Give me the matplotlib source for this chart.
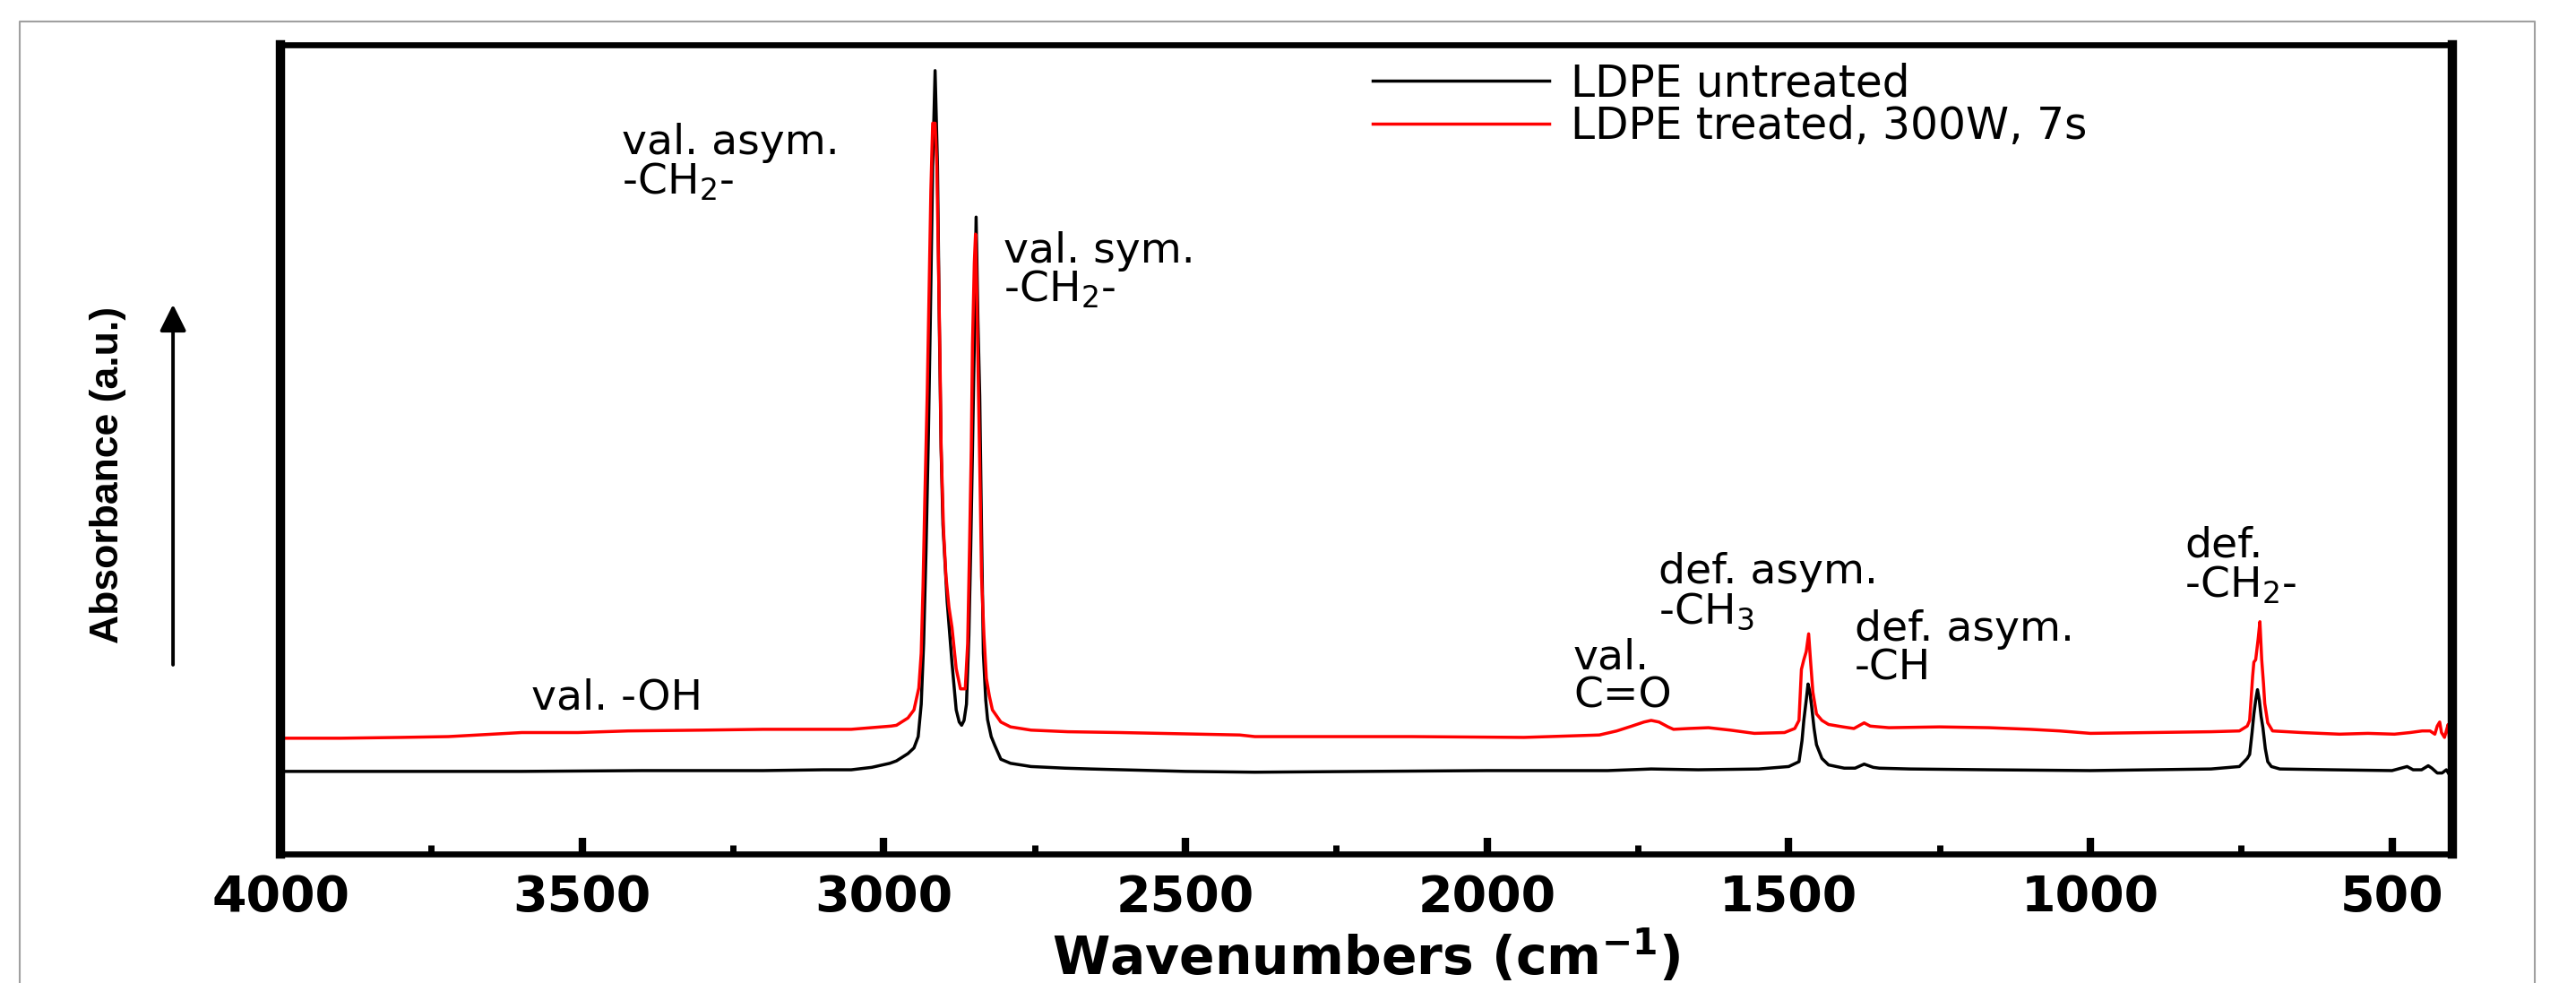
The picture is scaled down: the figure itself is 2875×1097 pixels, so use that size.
import matplotlib
matplotlib.use('Agg')
import matplotlib.pyplot as plt
from matplotlib.lines import Line2D
from matplotlib.ticker import MultipleLocator

# FTIR spectra (wavenumber in cm-1, absorbance in a.u.)
wn_untreated = [4000, 3800, 3600, 3400, 3200, 3100, 3054, 3020, 2990, 2979, 2960, 2950,
                2943, 2938, 2934, 2930, 2926, 2923, 2919, 2915, 2911, 2908, 2905, 2902,
                2895, 2887, 2880, 2875, 2871, 2867, 2863, 2859, 2856, 2853, 2850, 2847,
                2844, 2841, 2838, 2835, 2831, 2828, 2822, 2816, 2806, 2790, 2756, 2700,
                2657, 2500, 2385, 2200, 2000, 1800, 1728, 1650, 1550, 1500, 1483, 1478,
                1475, 1471, 1468, 1465, 1462, 1458, 1454, 1445, 1434, 1408, 1390, 1375,
                1360, 1350, 1300, 1168, 1000, 900, 800, 753, 740, 736, 732, 729, 726,
                723, 720, 717, 714, 710, 706, 700, 686, 600, 500, 475, 465, 451, 440,
                434, 425, 417, 410, 405, 400]
abs_untreated = [0.102, 0.102, 0.102, 0.103, 0.103, 0.104, 0.104, 0.107, 0.112, 0.115, 0.124, 0.131,
                 0.145, 0.185, 0.26, 0.375, 0.52, 0.655, 0.85, 0.968, 0.85, 0.655, 0.50, 0.407,
                 0.312, 0.236, 0.178, 0.163, 0.159, 0.165, 0.185, 0.27, 0.375, 0.50, 0.63, 0.787,
                 0.66, 0.566, 0.40, 0.248, 0.19, 0.166, 0.145, 0.134, 0.117, 0.112, 0.108, 0.106,
                 0.105, 0.102, 0.101, 0.102, 0.103, 0.103, 0.105, 0.104, 0.105, 0.108, 0.114, 0.14,
                 0.165, 0.19, 0.21, 0.20, 0.182, 0.155, 0.135, 0.118, 0.110, 0.106, 0.106, 0.111,
                 0.107, 0.106, 0.105, 0.104, 0.103, 0.104, 0.105, 0.108, 0.118, 0.123, 0.15, 0.173, 0.19,
                 0.203, 0.19, 0.17, 0.156, 0.13, 0.114, 0.108, 0.105, 0.104, 0.103, 0.108, 0.104, 0.104, 0.109,
                 0.106, 0.100, 0.100, 0.104, 0.098, 0.101]

wn_treated = [4000, 3900, 3800, 3722, 3600, 3507, 3424, 3300, 3200, 3100, 3054, 2988,
              2979, 2960, 2950, 2942, 2938, 2935, 2932, 2928, 2925, 2922, 2919, 2915,
              2912, 2910, 2907, 2905, 2901, 2897, 2892, 2887, 2880, 2873, 2865, 2861,
              2858, 2855, 2853, 2850, 2848, 2846, 2843, 2840, 2838, 2834, 2830, 2825,
              2820, 2806, 2790, 2756, 2695, 2608, 2410, 2385, 2126, 1939, 1814, 1785,
              1760, 1740, 1728, 1715, 1700, 1691, 1666, 1633, 1597, 1557, 1507, 1490,
              1483, 1479, 1475, 1471, 1467, 1464, 1460, 1454, 1445, 1434, 1410, 1392,
              1375, 1365, 1350, 1334, 1250, 1168, 1100, 1051, 1000, 900, 800, 753,
              740, 736, 731, 729, 726, 722, 719, 716, 713, 711, 706, 698, 650, 587,
              540, 496, 470, 450, 437, 429, 425, 421, 418, 413, 410, 407, 404, 401, 400]
abs_treated = [0.143, 0.143, 0.144, 0.145, 0.150, 0.150, 0.152, 0.153, 0.154, 0.154, 0.154, 0.158,
               0.159, 0.168, 0.178, 0.205, 0.248, 0.33, 0.439, 0.57, 0.693, 0.82, 0.903, 0.903,
               0.85, 0.756, 0.62, 0.503, 0.40, 0.343, 0.305, 0.28, 0.229, 0.204, 0.204, 0.26,
               0.375, 0.50, 0.63, 0.73, 0.766, 0.70, 0.566, 0.44, 0.343, 0.27, 0.217, 0.195,
               0.178, 0.163, 0.157, 0.153, 0.151, 0.150, 0.147, 0.145, 0.145, 0.144, 0.147, 0.152,
               0.158, 0.163, 0.165, 0.163, 0.157, 0.154, 0.155, 0.156, 0.153, 0.149, 0.150, 0.155,
               0.165, 0.228, 0.24, 0.25, 0.272, 0.24, 0.20, 0.173, 0.165, 0.160, 0.157, 0.155,
               0.162, 0.158, 0.157, 0.156, 0.157, 0.156, 0.154, 0.152, 0.149, 0.150, 0.151, 0.152,
               0.158, 0.165, 0.22, 0.237, 0.24, 0.265, 0.287, 0.24, 0.21, 0.186, 0.162, 0.152, 0.150, 0.148,
               0.149, 0.148, 0.150, 0.152, 0.152, 0.148, 0.158, 0.163, 0.150, 0.144, 0.152, 0.160, 0.135, 0.170, 0.140]

series_labels = ['LDPE untreated', 'LDPE treated, 300W, 7s']
series_colors = ['#000000', '#ff0000']

tick_values = [4000, 3500, 3000, 2500, 2000, 1500, 1000, 500]
tick_labels = ['4000', '3500', '3000', '2500', '2000', '1500', '1000', '500']

# band assignments: (text, wavenumber of left edge, baseline height)
band_labels = [
    ('val. asym.', 3434, 0.865), ('-CH$_2$-', 3434, 0.815),
    ('val. sym.', 2801, 0.731), ('-CH$_2$-', 2801, 0.683),
    ('val. -OH', 3584, 0.179),
    ('val.', 1857, 0.229), ('C=O', 1857, 0.1805),
    ('def. asym.', 1716, 0.334), ('-CH$_3$', 1716, 0.285),
    ('def. asym.', 1391, 0.2636), ('-CH', 1391, 0.2148),
    ('def.', 844, 0.3666), ('-CH$_2$-', 844, 0.3167),
]

plt.rcParams['font.family'] = ['DejaVu Sans']
plt.rcParams['mathtext.default'] = 'regular'

fig = plt.figure(figsize=(28.75, 10.97), dpi=100)
ax = fig.add_axes([0.1089, 0.1313, 0.8431, 0.8232])

ax.plot(wn_untreated, abs_untreated, color=series_colors[0], lw=2.5, label=series_labels[0])
ax.plot(wn_treated, abs_treated, color=series_colors[1], lw=2.5, label=series_labels[1])

ax.set_xlim(4000, 400)
ax.set_ylim(0, 1)
ax.set_xticks(tick_values)
ax.set_xticklabels(tick_labels, fontweight='bold')
ax.xaxis.set_minor_locator(MultipleLocator(250))
ax.set_yticks([])
ax.tick_params(axis='x', which='major', direction='in', length=13, width=6,
               labelsize=40, pad=16, top=False)
ax.tick_params(axis='x', which='minor', direction='in', length=7, width=5, top=False)

for side in ['left', 'right']:
    ax.spines[side].set_linewidth(7.5)
for side in ['top', 'bottom']:
    ax.spines[side].set_linewidth(4.8)

ax.set_xlabel('Wavenumbers (cm$^{-1}$)', fontsize=42, fontweight='bold')
ax.xaxis.set_label_coords(0.5, -0.1495)
ax.xaxis.label.set_va('baseline')

ax.set_ylabel('Absorbance (a.u.)', fontsize=32, fontweight='bold', family='Liberation Sans')
ax.yaxis.set_label_coords(-0.0796, 0.468)
ax.yaxis.label.set_va('center')

ax.annotate('', xy=(-0.0495, 0.679), xytext=(-0.0495, 0.2337), xycoords='axes fraction',
            annotation_clip=False,
            arrowprops=dict(arrowstyle='-|>,head_length=0.9,head_width=0.45', lw=2.8,
                            color='k', mutation_scale=20, shrinkA=0, shrinkB=0))

for text, x, y in band_labels:
    ax.text(x, y, text, fontsize=34, ha='left', va='baseline')

ax.legend(loc='center left', bbox_to_anchor=(0.503, 0.9252), frameon=False, fontsize=35,
          handlelength=4.05, handletextpad=0.49, labelspacing=0,
          borderpad=0, borderaxespad=0)

# thin grey frame around the whole figure (open at the bottom)
x0, x1, ytop = 22 / 2875, 2829 / 2875, 1 - 24 / 1097
fig.add_artist(Line2D([x0, x0, x1, x1], [0, ytop, ytop, 0], transform=fig.transFigure,
                      color='#a0a0a0', lw=1.5))

fig.savefig('out.png', dpi=100)
